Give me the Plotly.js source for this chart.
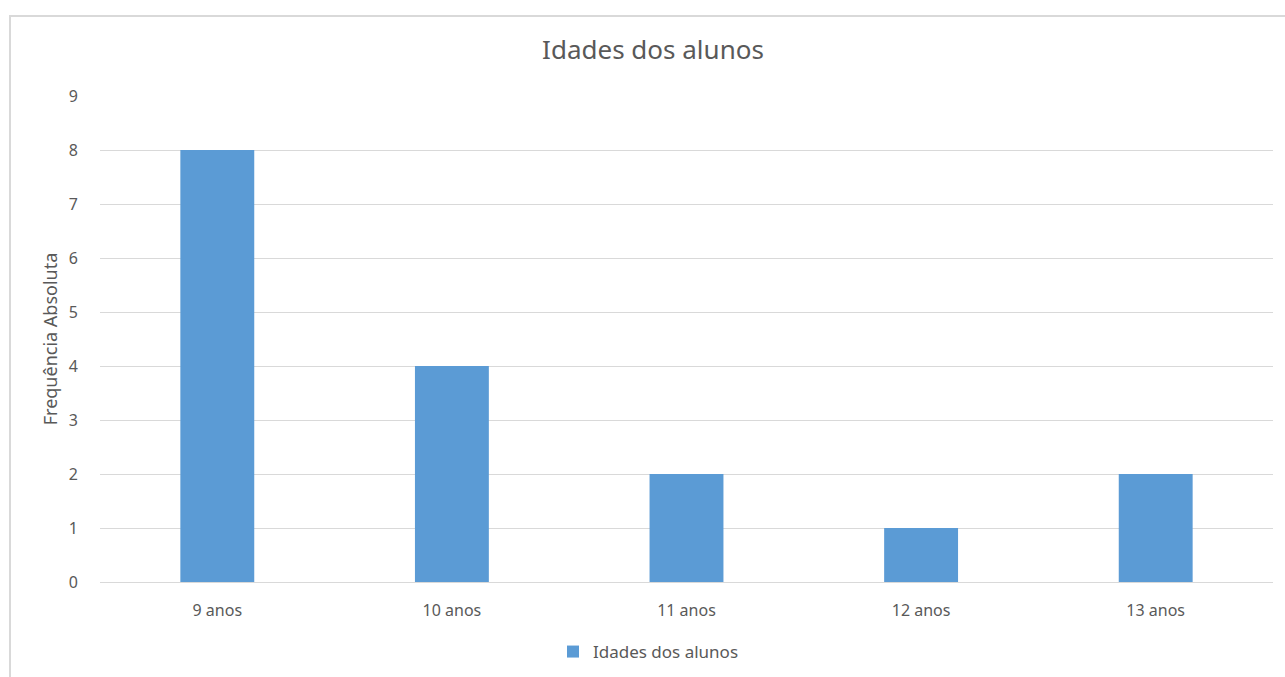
<!DOCTYPE html>
<html>
<head>
<meta charset="utf-8">
<script src="https://cdn.plot.ly/plotly-3.0.1.min.js"></script>
<style>
html,body{margin:0;padding:0;background:#fff;}
#frame{position:absolute;left:9px;top:15px;width:1276px;height:662px;border-top:2px solid #d9d9d9;border-left:2px solid #d9d9d9;box-sizing:border-box;}
#chart{position:absolute;left:0;top:0;width:1285px;height:677px;}
</style>
</head>
<body>
<div id="frame"></div>
<div id="chart"></div>
<script>
const categories = ["9 anos", "10 anos", "11 anos", "12 anos", "13 anos"];
const values = [8, 4, 2, 1, 2];
const seriesName = "Idades dos alunos";
const yTicks = [0, 1, 2, 3, 4, 5, 6, 7, 8, 9];

const font = "Noto Sans, Open Sans, sans-serif";
const data = [{
  type: "bar",
  x: categories,
  y: values,
  name: seriesName,
  marker: {color: "#5B9BD5"},
  hoverinfo: "x+y"
}];
const layout = {
  width: 1285, height: 677,
  paper_bgcolor: "rgba(0,0,0,0)",
  plot_bgcolor: "rgba(0,0,0,0)",
  margin: {l: 100, r: 12, t: 96, b: 95},
  font: {family: font, color: "#595959", size: 16},
  title: {text: "Idades dos alunos", font: {family: font, size: 26, color: "#595959"}, x: 653/1285, xanchor: "center", y: 1 - 50/677, yanchor: "middle"},
  bargap: 0.685,
  showlegend: true,
  legend: {orientation: "h", x: 553/1285, xref: "container", xanchor: "left", y: 1 - 652/677, yref: "container", yanchor: "middle", font: {size: 17, color: "#595959"}},
  xaxis: {
    type: "category",
    showgrid: false,
    zeroline: false,
    showline: false,
    ticks: "outside", ticklen: 14, tickcolor: "rgba(0,0,0,0)",
    tickfont: {size: 16, color: "#595959"}
  },
  yaxis: {
    range: [0, 9],
    tickvals: yTicks,
    showgrid: true, gridcolor: "#d9d9d9", gridwidth: 1,
    zeroline: true, zerolinecolor: "#d9d9d9", zerolinewidth: 1,
    ticks: "outside", ticklen: 18, tickcolor: "rgba(0,0,0,0)",
    tickfont: {size: 16, color: "#595959"},
    title: {text: "Frequência Absoluta", font: {size: 18, color: "#595959"}, standoff: 6}
  }
};
Plotly.newPlot("chart", data, layout, {displayModeBar: false, staticPlot: true});
</script>
</body>
</html>
